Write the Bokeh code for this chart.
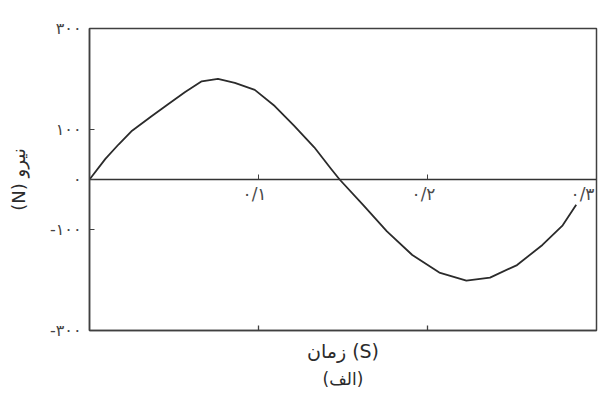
import math
from bokeh.plotting import figure
from bokeh.models import (Range1d, LinearAxis, FixedTicker, Title, Label,
                          CustomLabelingPolicy)
from bokeh.embed import file_html
from bokeh.resources import INLINE

# ---- data ----
time_s = [0.0, 0.0094, 0.0173, 0.0252, 0.0369, 0.0467, 0.0566, 0.0664, 0.076,
          0.086, 0.0978, 0.1096, 0.121, 0.133, 0.143, 0.148,
          0.162, 0.176, 0.191, 0.207, 0.223, 0.237, 0.253, 0.268, 0.280, 0.288]
force_n = [0, 41, 70, 97, 126, 150, 174, 195, 200,
           192, 178, 146, 107, 64, 21, 0,
           -51, -103, -150, -185, -201, -195, -170, -130, -91, -50]

y_min, y_max = -300, 300
x_min, x_max = 0.0, 0.3
y_ticks = [-300, -100, 0, 100, 300]
y_tick_labels = ["-۳۰۰", "-۱۰۰", "۰", "۱۰۰", "۳۰۰"]
x_ticks = [0.1, 0.2, 0.3]
x_tick_labels = ["۰/۱", "۰/۲", "۰/۳"]
bottom_ticks = [0.1, 0.2]
x_label = "زمان (S)"
y_label = "(N) نیرو"
sub_label = "(الف)"

INK = "#2b2b2b"
FRAME = "#404040"
FONT = "DejaVu Sans"

p = figure(width=607, height=398, output_backend="svg", toolbar_location=None,
           x_range=Range1d(x_min, x_max), y_range=Range1d(y_min, y_max),
           min_border_left=89, min_border_top=28, min_border_right=11,
           min_border_bottom=68, background_fill_color="white")

p.xgrid.visible = False
p.ygrid.visible = False
p.outline_line_color = FRAME
p.outline_line_width = 1.5
p.outline_line_alpha = 1.0

# left axis
ya = p.yaxis[0]
ya.ticker = FixedTicker(ticks=y_ticks)
ya.major_label_overrides = {t: l for t, l in zip(y_ticks, y_tick_labels)}
ya.minor_tick_line_color = None
ya.major_tick_in = 5
ya.major_tick_out = 0
ya.major_tick_line_color = FRAME
ya.axis_line_color = FRAME
ya.axis_line_width = 1.5
ya.major_label_text_font = FONT
ya.major_label_text_font_size = "16px"
ya.major_label_text_color = "#444444"
ya.major_label_standoff = 8
ya.axis_label = y_label
ya.axis_label_text_font = FONT
ya.axis_label_text_font_style = "normal"
ya.axis_label_text_font_size = "18px"
ya.axis_label_text_color = INK
ya.axis_label_standoff = 18

# bottom (frame) axis: carries only the axis label
xa = p.xaxis[0]
xa.ticker = FixedTicker(ticks=[])
xa.minor_tick_line_color = None
xa.major_tick_line_color = None
xa.axis_line_color = FRAME
xa.axis_line_width = 1.5
xa.axis_label = x_label
xa.axis_label_text_font = FONT
xa.axis_label_text_font_style = "normal"
xa.axis_label_text_font_size = "19px"
xa.axis_label_text_color = INK
xa.axis_label_standoff = 9

# small inward ticks on the bottom frame line
p.scatter(bottom_ticks, [y_min] * len(bottom_ticks), marker="dash",
          angle=math.pi / 2, size=10, line_color=FRAME, line_width=1.3)

# zero line axis (line + inward ticks); its labels are drawn as Labels
za = LinearAxis(fixed_location=0, ticker=FixedTicker(ticks=x_ticks),
                major_label_policy=CustomLabelingPolicy(
                    code="return new indices.constructor(indices.size)"))
za.minor_tick_line_color = None
za.major_tick_in = 5
za.major_tick_out = 0
za.major_tick_line_color = FRAME
za.axis_line_color = "#333333"
za.axis_line_width = 1.5
p.add_layout(za, "below")

for t, s in zip(x_ticks, x_tick_labels):
    at_edge = t >= x_max
    p.add_layout(Label(x=t, y=0, text=s,
                       x_offset=-2 if at_edge else -4, y_offset=-14,
                       text_align="right" if at_edge else "center",
                       text_baseline="middle",
                       text_font=FONT, text_font_size="17px",
                       text_color="#4a4a4a"))

p.add_layout(Title(text=sub_label, align="center", text_font=FONT,
                   text_font_size="17px", text_font_style="normal",
                   text_color=INK, standoff=5), "below")

p.line(time_s, force_n, line_color=INK, line_width=1.8, line_join="round")

open("out.html", "w").write(file_html(p, INLINE))
